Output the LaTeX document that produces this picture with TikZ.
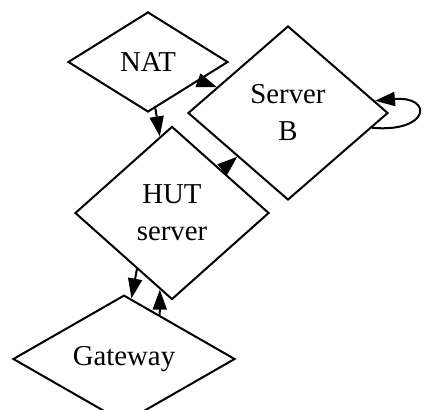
\documentclass[tikz,border=0pt]{standalone}
\usepackage{fontspec}
\setmainfont{Liberation Serif}
\usepackage{tikz}
\usetikzlibrary{arrows.meta, shapes.geometric}

\tikzset{
    host/.style={draw, shape=diamond, line width=1pt, inner sep=0pt, align=center,
        font=\fontsize{14.4}{18.5}\selectfont},
    link/.style={line width=1pt, -{Triangle[length=10pt,width=7pt]}}
}

\begin{document}
\begin{tikzpicture}[x=0.5pt, y=-0.5pt]
        \useasboundingbox (0,0) rectangle (424,410);
        
        \node[host, minimum width=80pt, minimum height=50pt] (nat) at (148,62) {NAT};
        \node[host, minimum width=100pt, minimum height=87pt] (srvb) at (288,113) {Server\\B};
        \node[host, minimum width=97pt, minimum height=86.5pt] (hut) at (172,213) {HUT\\server};
        \node[host, minimum width=111pt, minimum height=51pt] (gw) at (124,359) {Gateway};
        
        \draw[link] (nat) -- (srvb);
        \draw[link] (nat) -- (hut);
        \draw[link] (hut) -- (srvb);
        \draw[link] (srvb.-10) to[out=-5, in=5, looseness=5.5] (srvb.8);
        
        \draw[link] (hut.238) -- (gw.83.5);
        \draw[link] (gw.51.5) -- (hut.261);
    \end{tikzpicture}
\end{document}
